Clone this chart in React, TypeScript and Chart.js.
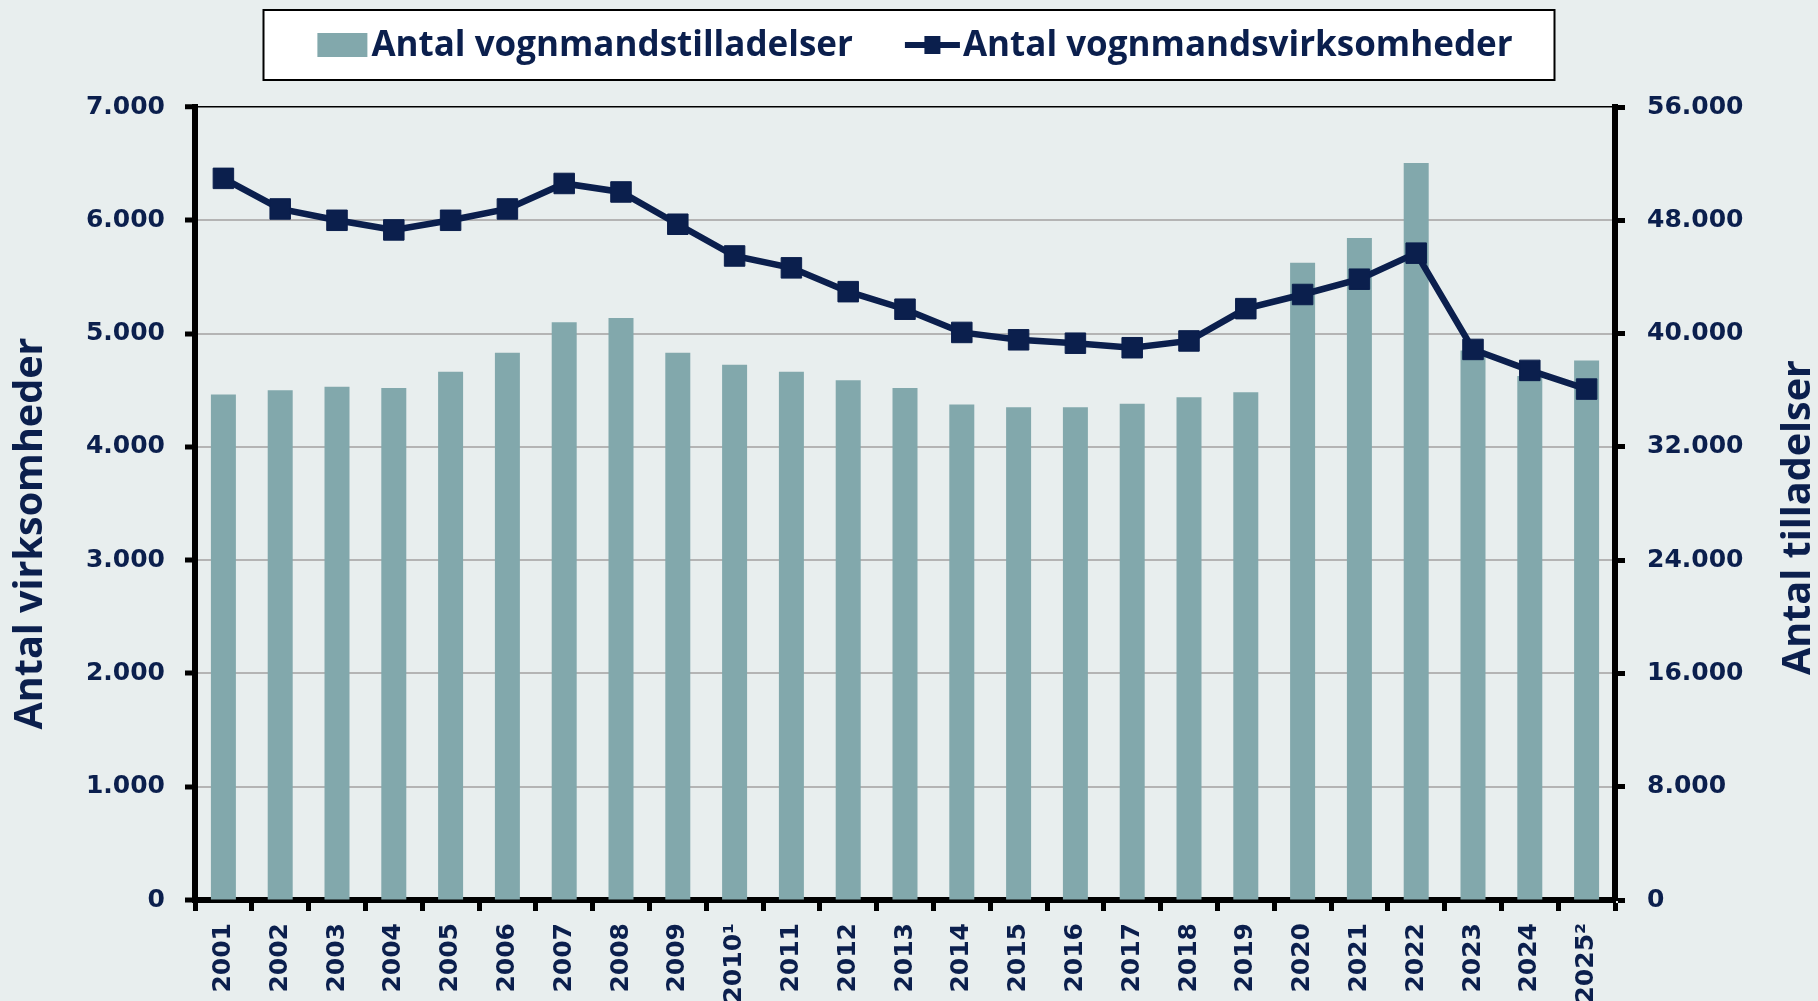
import React, { useEffect, useRef } from "react";
import { Chart, registerables } from "chart.js";

Chart.register(...registerables);

// ---------- data ----------
const years = [
  "2001", "2002", "2003", "2004", "2005", "2006", "2007", "2008", "2009", "2010¹",
  "2011", "2012", "2013", "2014", "2015", "2016", "2017", "2018", "2019", "2020",
  "2021", "2022", "2023", "2024", "2025²",
];

// Antal vognmandstilladelser (right axis)
const tilladelser = [
  35700, 36000, 36250, 36150, 37300, 38650, 40800, 41100, 38650, 37800,
  37300, 36700, 36150, 35000, 34800, 34800, 35050, 35500, 35850, 45000,
  46750, 52050, 38800, 37000, 38100,
];

// Antal vognmandsvirksomheder (left axis)
const virksomheder = [
  6370, 6100, 6000, 5915, 6000, 6100, 6325, 6250, 5965, 5685,
  5580, 5370, 5215, 5010, 4945, 4915, 4875, 4935, 5220, 5345,
  5480, 5710, 4860, 4675, 4510,
];

const barLabel = "Antal vognmandstilladelser";
const lineLabel = "Antal vognmandsvirksomheder";
const leftTitle = "Antal virksomheder";
const rightTitle = "Antal tilladelser";

const leftMax = 7000;
const leftStep = 1000;
const rightMax = 56000;
const rightStep = 8000;

// ---------- styles ----------
const NAVY = "#0B1F4D";
const BAR = "#82A8AC";
const BG = "#E8EEEE";
const GRID = "#B4B4B4";
const TICK_FONT = { family: "'DejaVu Sans', Verdana, sans-serif", weight: "bold" as const, size: 25 };
const TITLE_FONT = "bold 39.5px 'Open Sans', sans-serif";
const LEGEND_FONT = "bold 35px 'Open Sans', sans-serif";

const fmt = (v: number) => String(v).replace(/\B(?=(\d{3})+(?!\d))/g, ".");

const decorPlugin = {
  id: "decor",
  afterDraw(chart: any) {
    const ctx: CanvasRenderingContext2D = chart.ctx;
    const area = chart.chartArea;
    const W = chart.width;
    ctx.save();

    // axis titles (both read bottom-to-top)
    ctx.fillStyle = NAVY;
    ctx.font = TITLE_FONT;
    ctx.textAlign = "center";
    ctx.textBaseline = "middle";
    const midY = (area.top + area.bottom) / 2;
    ctx.save();
    ctx.translate(31, midY + 30);
    ctx.rotate(-Math.PI / 2);
    ctx.fillText(leftTitle, 0, 0);
    ctx.restore();
    ctx.save();
    ctx.translate(W - 19, midY + 14);
    ctx.rotate(-Math.PI / 2);
    ctx.fillText(rightTitle, 0, 0);
    ctx.restore();

    // legend box
    const boxW = 1291;
    const boxL = W / 2 - boxW / 2;
    const boxT = 10;
    const boxH = 70;
    ctx.fillStyle = "#FFFFFF";
    ctx.fillRect(boxL, boxT, boxW, boxH);
    ctx.strokeStyle = "#000000";
    ctx.lineWidth = 2;
    ctx.strokeRect(boxL, boxT, boxW, boxH);

    ctx.font = LEGEND_FONT;
    ctx.textAlign = "left";
    ctx.textBaseline = "alphabetic";
    const t1 = ctx.measureText(barLabel).width;
    const t2 = ctx.measureText(lineLabel).width;
    const sw1 = 50, g1 = 4, gap = 52, sw2 = 55, g2 = 3;
    const total = sw1 + g1 + t1 + gap + sw2 + g2 + t2;
    let x = boxL + (boxW - total) / 2 + 6;
    const cy = 45;
    const base = 56;
    // bar swatch
    ctx.fillStyle = BAR;
    ctx.fillRect(x, cy - 12, sw1, 24);
    x += sw1 + g1;
    ctx.fillStyle = NAVY;
    ctx.fillText(barLabel, x, base);
    x += t1 + gap;
    // line swatch
    ctx.strokeStyle = NAVY;
    ctx.lineWidth = 6;
    ctx.beginPath();
    ctx.moveTo(x, cy);
    ctx.lineTo(x + sw2, cy);
    ctx.stroke();
    ctx.fillStyle = NAVY;
    ctx.fillRect(x + sw2 / 2 - 8, cy - 9, 16, 18);
    x += sw2 + g2;
    ctx.fillText(lineLabel, x, base);

    ctx.restore();
  },
};

export default function App() {
  const ref = useRef<HTMLCanvasElement | null>(null);

  useEffect(() => {
    if (!ref.current) return;
    const chart = new Chart(ref.current, {
      type: "bar",
      data: {
        labels: years,
        datasets: [
          {
            type: "line",
            label: lineLabel,
            data: virksomheder,
            yAxisID: "y",
            borderColor: NAVY,
            backgroundColor: NAVY,
            borderWidth: 6.5,
            tension: 0,
            pointStyle: "rect",
            pointRadius: 14.5,
            pointBackgroundColor: NAVY,
            pointBorderColor: NAVY,
            pointBorderWidth: 1,
            order: 0,
          } as any,
          {
            type: "bar",
            label: barLabel,
            data: tilladelser,
            yAxisID: "y1",
            backgroundColor: BAR,
            barPercentage: 0.44,
            categoryPercentage: 1,
            order: 1,
          } as any,
        ],
      },
      options: {
        responsive: false,
        animation: false,
        devicePixelRatio: 1,
        layout: { padding: { top: 107, left: 0, right: 0, bottom: 0 } },
        plugins: {
          legend: { display: false },
          tooltip: { enabled: false },
          title: { display: false },
        },
        scales: {
          x: {
            type: "category",
            offset: true,
            z: 1,
            afterFit: (s: any) => {
              s.height = 101;
            },
            grid: {
              offset: true,
              drawOnChartArea: false,
              drawTicks: true,
              tickLength: 11,
              tickWidth: 5,
              tickColor: "#000000",
            },
            border: { display: true, color: "#000000", width: 6 },
            ticks: {
              autoSkip: false,
              minRotation: 90,
              maxRotation: 90,
              padding: 12,
              color: NAVY,
              font: TICK_FONT,
            },
          },
          y: {
            type: "linear",
            position: "left",
            min: 0,
            max: leftMax,
            afterFit: (s: any) => {
              s.width = 195;
            },
            grid: {
              drawOnChartArea: true,
              drawTicks: true,
              tickLength: 10,
              tickWidth: 5,
              tickColor: "#000000",
              color: (c: any) => (c.tick && c.tick.value === leftMax ? "#000000" : GRID),
              lineWidth: (c: any) => (c.tick && c.tick.value === leftMax ? 1.5 : 2),
            },
            border: { display: true, color: "#000000", width: 6 },
            ticks: {
              stepSize: leftStep,
              padding: 20,
              color: NAVY,
              font: TICK_FONT,
              callback: (v: any) => fmt(Number(v)),
            },
          },
          y1: {
            type: "linear",
            position: "right",
            min: 0,
            max: rightMax,
            afterFit: (s: any) => {
              s.width = 203;
            },
            grid: {
              drawOnChartArea: false,
              drawTicks: true,
              tickLength: 10,
              tickWidth: 5,
              tickColor: "#000000",
            },
            border: { display: true, color: "#000000", width: 6 },
            ticks: {
              stepSize: rightStep,
              padding: 22,
              color: NAVY,
              font: TICK_FONT,
              callback: (v: any) => fmt(Number(v)),
            },
          },
        },
      } as any,
      plugins: [decorPlugin],
    });
    return () => chart.destroy();
  }, []);

  return (
    <div
      style={{
        position: "fixed",
        left: 0,
        top: 0,
        width: 1818,
        height: 1001,
        background: BG,
      }}
    >
      <canvas ref={ref} width={1818} height={1001} style={{ display: "block" }} />
    </div>
  );
}
